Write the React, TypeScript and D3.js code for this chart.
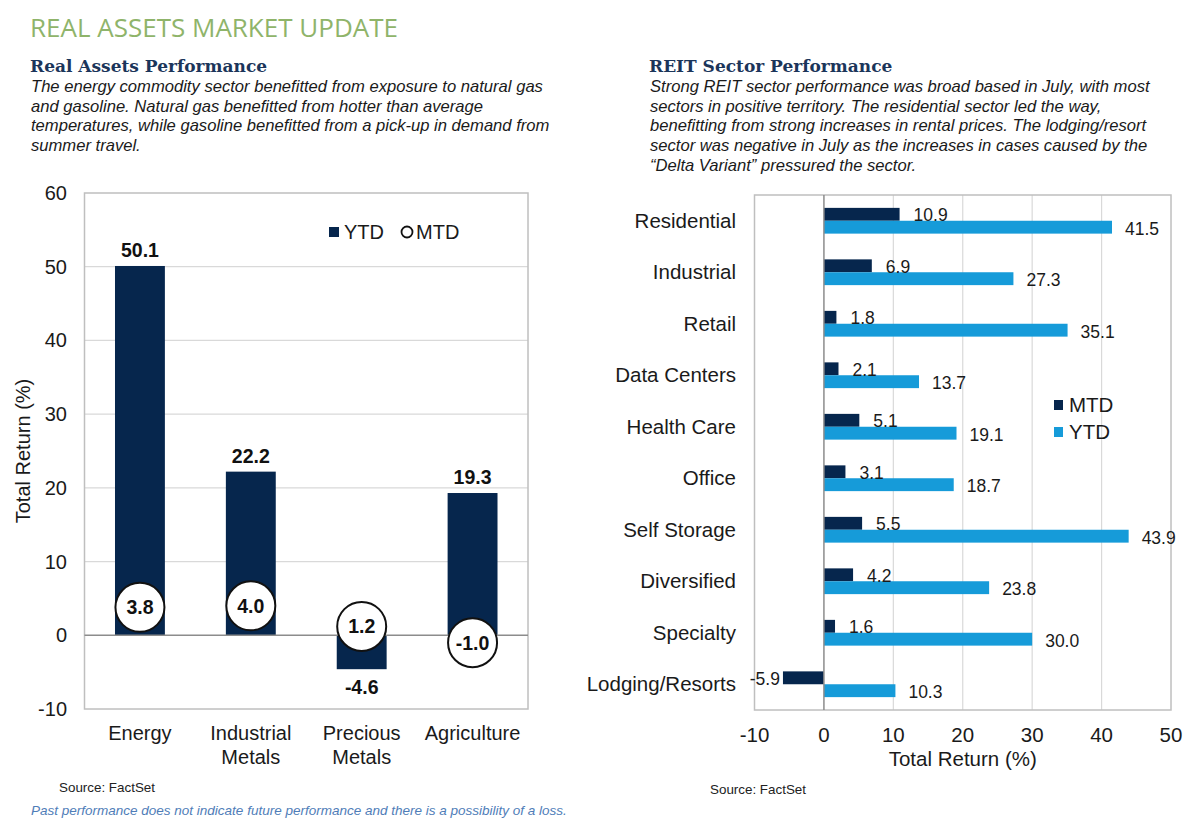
import React from "react";
import * as d3 from "d3";

const assetCategories: string[][] = [["Energy"], ["Industrial", "Metals"], ["Precious", "Metals"], ["Agriculture"]];
const assetYTD = [50.1, 22.2, -4.6, 19.3];
const assetMTD = [3.8, 4.0, 1.2, -1.0];
const assetTicks = [-10, 0, 10, 20, 30, 40, 50, 60];

const sectors = ["Residential", "Industrial", "Retail", "Data Centers", "Health Care", "Office", "Self Storage", "Diversified", "Specialty", "Lodging/Resorts"];
const sectorMTD = [10.9, 6.9, 1.8, 2.1, 5.1, 3.1, 5.5, 4.2, 1.6, -5.9];
const sectorYTD = [41.5, 27.3, 35.1, 13.7, 19.1, 18.7, 43.9, 23.8, 30.0, 10.3];
const sectorTicks = [-10, 0, 10, 20, 30, 40, 50];

const leftText = [
  "The energy commodity sector benefitted from exposure to natural gas",
  "and gasoline. Natural gas benefitted from hotter than average",
  "temperatures, while gasoline benefitted from a pick-up in demand from",
  "summer travel.",
];
const rightText = [
  "Strong REIT sector performance was broad based in July, with most",
  "sectors in positive territory. The residential sector led the way,",
  "benefitting from strong increases in rental prices. The lodging/resort",
  "sector was negative in July as the increases in cases caused by the",
  "\u201CDelta Variant\u201D pressured the sector.",
];

const NAVY = "#06264d";
const LIGHT = "#169bd9";
const GRID = "#d9d9d9";
const FRAME = "#bfbfbf";
const SANS = "'Liberation Sans', Arial, sans-serif";
const SERIF = "'DejaVu Serif', 'Liberation Serif', serif";

export default function App() {
  // Left chart scales
  const L0 = 84.5, L1 = 528;
  const lx = d3.scaleBand<number>().domain(d3.range(assetYTD.length)).range([L0, L1]).paddingInner(0.55).paddingOuter(0.275);
  const ly = d3.scaleLinear().domain([-10, 60]).range([709, 193]);

  // Right chart scales
  const R0 = 754.5, R1 = 1171;
  const rx = d3.scaleLinear().domain([-10, 50]).range([R0, R1]);
  const ry = d3.scaleBand<string>().domain(sectors).range([195, 710]).paddingInner(0.5).paddingOuter(0.25);
  const rsub = d3.scaleBand<string>().domain(["MTD", "YTD"]).range([0, ry.bandwidth()]);

  return (
    <svg width={1200} height={826} style={{ position: "absolute", left: 0, top: 0, background: "#fff" }} fontFamily={SANS}>
      <rect x={0} y={0} width={1200} height={826} fill="#fff" />
      {/* Title */}
      <text x={30} y={37} fontFamily="'Open Sans', sans-serif" fontSize={26} fill="#8fb46a">REAL ASSETS MARKET UPDATE</text>

      {/* Left header */}
      <text x={30} y={71.5} fontFamily={SERIF} fontWeight="bold" fontSize={17} fill="#1b355a">Real Assets Performance</text>
      {leftText.map((t, i) => (
        <text key={i} x={31} y={92 + i * 19.7} fontStyle="italic" fontSize={16.6} fill="#1a1a1a">{t}</text>
      ))}

      {/* Right header */}
      <text x={649} y={71.5} fontFamily={SERIF} fontWeight="bold" fontSize={17} fill="#1b355a">REIT Sector Performance</text>
      {rightText.map((t, i) => (
        <text key={i} x={650} y={92 + i * 19.7} fontStyle="italic" fontSize={16.6} fill="#1a1a1a">{t}</text>
      ))}

      {/* ===== Left chart ===== */}
      <g>
        {assetTicks.filter((t) => t !== 0 && t !== 60 && t !== -10).map((t) => (
          <line key={t} x1={L0} x2={L1} y1={ly(t)} y2={ly(t)} stroke={GRID} strokeWidth={1.2} />
        ))}
        <rect x={L0} y={ly(60)} width={L1 - L0} height={ly(-10) - ly(60)} fill="none" stroke={FRAME} strokeWidth={1.5} />
        {assetTicks.map((t) => (
          <text key={t} x={67} y={ly(t)} dy="0.35em" textAnchor="end" fontSize={20} fill="#1a1a1a">{t}</text>
        ))}
        <text transform={`translate(23,${(ly(60) + ly(-10)) / 2}) rotate(-90)`} textAnchor="middle" dy="0.35em" fontSize={20} fill="#1a1a1a">Total Return (%)</text>

        {assetYTD.map((v, i) => (
          <rect key={i} x={lx(i)!} width={lx.bandwidth()} y={ly(Math.max(0, v))} height={Math.abs(ly(v) - ly(0))} fill={NAVY} />
        ))}
        <line x1={L0} x2={L1} y1={ly(0)} y2={ly(0)} stroke="#8c8c8c" strokeWidth={1.5} />
        {assetYTD.map((v, i) => (
          <text key={i} x={lx(i)! + lx.bandwidth() / 2} y={v >= 0 ? ly(v) - 9 : ly(v) + 25} textAnchor="middle" fontSize={19.5} fontWeight="bold" fill="#111">{v.toFixed(1)}</text>
        ))}
        {assetMTD.map((v, i) => (
          <g key={i}>
            <circle cx={lx(i)! + lx.bandwidth() / 2} cy={ly(v)} r={24.5} fill="#fff" stroke="#111" strokeWidth={2} />
            <text x={lx(i)! + lx.bandwidth() / 2} y={ly(v)} dy="0.36em" textAnchor="middle" fontSize={19.5} fontWeight="bold" fill="#111">{v.toFixed(1)}</text>
          </g>
        ))}
        {assetCategories.map((lines, i) => (
          <text key={i} x={lx(i)! + lx.bandwidth() / 2} y={740} textAnchor="middle" fontSize={20} fill="#1a1a1a">
            {lines.map((l, j) => (
              <tspan key={j} x={lx(i)! + lx.bandwidth() / 2} dy={j === 0 ? 0 : 24}>{l}</tspan>
            ))}
          </text>
        ))}
        {/* Legend */}
        <rect x={329} y={227} width={10} height={10} fill={NAVY} />
        <text x={344} y={232} dy="0.36em" fontSize={20} fill="#1a1a1a">YTD</text>
        <circle cx={407} cy={232} r={5.5} fill="#fff" stroke="#111" strokeWidth={1.8} />
        <text x={416} y={232} dy="0.36em" fontSize={20} fill="#1a1a1a">MTD</text>

        <text x={59} y={792} fontSize={13.4} fill="#222">Source: FactSet</text>
        <text x={31} y={815} fontSize={13.5} fontStyle="italic" fill="#4f7db8">Past performance does not indicate future performance and there is a possibility of a loss.</text>
      </g>

      {/* ===== Right chart ===== */}
      <g>
        {sectorTicks.filter((t) => t !== -10 && t !== 50 && t !== 0).map((t) => (
          <line key={t} x1={rx(t)} x2={rx(t)} y1={195} y2={710} stroke={GRID} strokeWidth={1.2} />
        ))}
        <rect x={rx(-10)} y={195} width={rx(50) - rx(-10)} height={710 - 195} fill="none" stroke={FRAME} strokeWidth={1.5} />
        {sectors.map((s, i) => {
          const y0 = ry(s)!;
          const m = sectorMTD[i];
          const yv = sectorYTD[i];
          const ym = y0 + rsub("MTD")!;
          const yy = y0 + rsub("YTD")!;
          const h = rsub.bandwidth();
          return (
            <g key={s}>
              <rect x={rx(Math.min(0, m))} y={ym} width={Math.abs(rx(m) - rx(0))} height={h} fill={NAVY} />
              <rect x={rx(Math.min(0, yv))} y={yy} width={Math.abs(rx(yv) - rx(0))} height={h} fill={LIGHT} />
              <text x={m >= 0 ? rx(m) + 14 : rx(m) - 3} y={ym + h / 2 + 1} dy="0.35em" textAnchor={m >= 0 ? "start" : "end"} fontSize={17.5} fill="#1a1a1a">{m.toFixed(1)}</text>
              <text x={rx(yv) + 13} y={yy + h / 2 + 1.5} dy="0.35em" fontSize={17.5} fill="#1a1a1a">{yv.toFixed(1)}</text>
              <text x={736} y={ry(s)! + ry.bandwidth() / 2} dy="0.35em" textAnchor="end" fontSize={20.5} fill="#1a1a1a">{s}</text>
            </g>
          );
        })}
        <line x1={rx(0)} x2={rx(0)} y1={195} y2={710} stroke="#8c8c8c" strokeWidth={1.5} />
        {sectorTicks.map((t) => (
          <text key={t} x={rx(t)} y={735} dy="0.35em" textAnchor="middle" fontSize={20.5} fill="#1a1a1a">{t}</text>
        ))}
        <text x={(rx(-10) + rx(50)) / 2} y={759} dy="0.35em" textAnchor="middle" fontSize={20.5} fill="#1a1a1a">Total Return (%)</text>
        {/* Legend */}
        <rect x={1054} y={400} width={9} height={10} fill={NAVY} />
        <text x={1069} y={405} dy="0.36em" fontSize={20.5} fill="#1a1a1a">MTD</text>
        <rect x={1054} y={427} width={9} height={10} fill={LIGHT} />
        <text x={1069} y={432} dy="0.36em" fontSize={20.5} fill="#1a1a1a">YTD</text>

        <text x={710} y={794} fontSize={13.4} fill="#222">Source: FactSet</text>
      </g>
    </svg>
  );
}
